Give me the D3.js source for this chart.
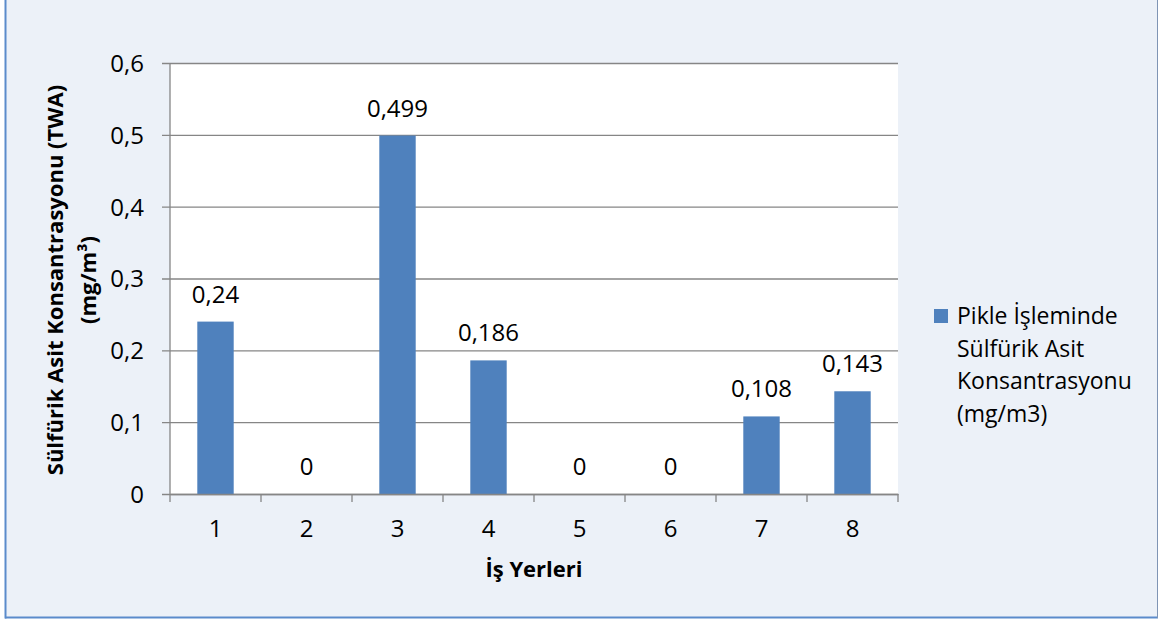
<!DOCTYPE html>
<html>
<head>
<meta charset="utf-8">
<script src="https://cdn.jsdelivr.net/npm/d3@7"></script>
<style>
  html, body { margin: 0; padding: 0; background: #ffffff; }
  svg { display: block; font-family: "Open Sans", "DejaVu Sans", sans-serif; }
</style>
</head>
<body>
<svg id="chart" width="1158" height="623"></svg>
<script>
const categories = ["1", "2", "3", "4", "5", "6", "7", "8"];
const values = [0.24, 0, 0.499, 0.186, 0, 0, 0.108, 0.143];
const valueLabels = ["0,24", "0", "0,499", "0,186", "0", "0", "0,108", "0,143"];
const yTicks = [0, 0.1, 0.2, 0.3, 0.4, 0.5, 0.6];
const yTickLabels = ["0", "0,1", "0,2", "0,3", "0,4", "0,5", "0,6"];
const legendLines = ["Pikle İşleminde", "Sülfürik Asit", "Konsantrasyonu", "(mg/m3)"];
const xTitle = "İş Yerleri";
const yTitleLines = ["Sülfürik Asit Konsantrasyonu (TWA)", "(mg/m³)"];

const svg = d3.select("#chart");
const W = 1158, H = 623;
const plot = { left: 170, right: 898, top: 63, bottom: 494 };
const barColor = "#4F81BD";
const gridColor = "#868686";
const textColor = "#000000";
const numSize = 24;

// chart background and frame
svg.append("rect").attr("x", 6).attr("y", 0).attr("width", W - 6).attr("height", 617)
  .attr("fill", "#ECF1F8");
svg.append("line").attr("x1", 5.5).attr("x2", 5.5).attr("y1", 0).attr("y2", 618.5)
  .attr("stroke", "#5B8BCB").attr("stroke-width", 2);
svg.append("line").attr("x1", 5).attr("x2", W).attr("y1", 617.5).attr("y2", 617.5)
  .attr("stroke", "#5B8BCB").attr("stroke-width", 2);
svg.append("line").attr("x1", 1157.5).attr("x2", 1157.5).attr("y1", 0).attr("y2", 618)
  .attr("stroke", "#7F95B5").attr("stroke-width", 1);

// plot area
svg.append("rect").attr("x", plot.left).attr("y", plot.top)
  .attr("width", plot.right - plot.left).attr("height", plot.bottom - plot.top)
  .attr("fill", "#ffffff");

const y = d3.scaleLinear().domain([0, 0.6]).range([plot.bottom, plot.top]);
const x = d3.scaleBand().domain(categories).range([plot.left, plot.right])
  .paddingInner(0.6).paddingOuter(0.3);
const xCat = d3.scaleBand().domain(categories).range([plot.left, plot.right]).padding(0);

// gridlines + y ticks
const yAxis = d3.axisLeft(y).tickValues(yTicks)
  .tickSize(-(plot.right - plot.left)).tickSizeOuter(0)
  .tickFormat((d, i) => yTickLabels[i]);
const gy = svg.append("g").attr("transform", `translate(${plot.left},0)`).call(yAxis);
gy.select(".domain").remove();
gy.selectAll(".tick line").attr("stroke", gridColor).attr("stroke-width", 1.3)
  .attr("x1", -8);
gy.selectAll(".tick text").attr("x", -26).attr("dy", "0.35em")
  .attr("font-size", numSize).attr("fill", textColor)
  .attr("font-family", "'Open Sans', sans-serif");

// y axis line
svg.append("line").attr("x1", plot.left).attr("x2", plot.left)
  .attr("y1", plot.top).attr("y2", plot.bottom)
  .attr("stroke", gridColor).attr("stroke-width", 1.3);

// bars
svg.append("g").selectAll("rect").data(values).join("rect")
  .attr("x", (d, i) => x(categories[i]))
  .attr("width", x.bandwidth())
  .attr("y", d => y(d))
  .attr("height", d => y(0) - y(d))
  .attr("fill", barColor);

// x axis
const xAxis = d3.axisBottom(xCat).tickSize(0).tickSizeOuter(0);
const gx = svg.append("g").attr("transform", `translate(0,${plot.bottom})`).call(xAxis);
gx.select(".domain").attr("stroke", gridColor).attr("stroke-width", 1.3);
gx.selectAll(".tick text").attr("y", 43).attr("dy", 0)
  .attr("font-size", numSize).attr("fill", textColor)
  .attr("font-family", "'Open Sans', sans-serif");
// category boundary ticks
const boundaries = categories.map(c => xCat(c)).concat([xCat(categories[categories.length - 1]) + xCat.bandwidth()]);
gx.selectAll(".bt").data(boundaries).join("line").attr("class", "bt")
  .attr("x1", d => d).attr("x2", d => d).attr("y1", 0).attr("y2", 8)
  .attr("stroke", gridColor).attr("stroke-width", 1.3);

// data labels
svg.append("g").selectAll("text").data(values).join("text")
  .attr("x", (d, i) => x(categories[i]) + x.bandwidth() / 2)
  .attr("y", d => y(d) - 19)
  .attr("text-anchor", "middle")
  .attr("font-size", numSize).attr("fill", textColor)
  .text((d, i) => valueLabels[i]);

// x title
svg.append("text").attr("x", (plot.left + plot.right) / 2).attr("y", 577)
  .attr("text-anchor", "middle").attr("font-size", 22).attr("font-weight", "bold")
  .attr("fill", textColor).text(xTitle);

// y title
const cy = 280;
const yBaselines = [63, 96];
yTitleLines.forEach((t, i) => {
  svg.append("text")
    .attr("transform", `translate(${yBaselines[i]},${cy}) rotate(-90)`)
    .attr("text-anchor", "middle").attr("font-size", 22).attr("font-weight", "bold")
    .attr("fill", textColor).text(t);
});

// legend
const lg = svg.append("g");
lg.append("rect").attr("x", 934).attr("y", 309).attr("width", 14).attr("height", 14)
  .attr("fill", barColor);
lg.selectAll("text").data(legendLines).join("text")
  .attr("x", 957).attr("y", (d, i) => 324 + i * 32.5)
  .attr("font-size", 23).attr("fill", textColor).text(d => d);
</script>
</body>
</html>
